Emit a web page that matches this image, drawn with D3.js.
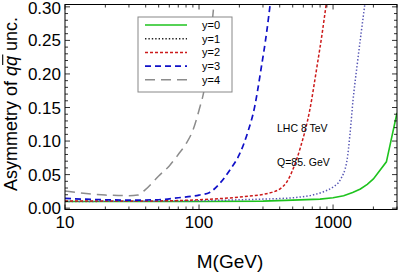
<!DOCTYPE html>
<html><head><meta charset="utf-8">
<script src="https://cdn.jsdelivr.net/npm/d3@7"></script>
<style>body{margin:0;background:#fff}svg{display:block}</style>
</head><body>
<svg id="c" width="398" height="274"></svg>
<script>
const seriesNames = ["y=0","y=1","y=2","y=3","y=4"];
const m0 = [10,100,300,500,800,1000,1200,1400,1600,1800,2000,2500,3000];
const v0 = [0.010,0.010,0.0105,0.012,0.0135,0.0155,0.0185,0.0235,0.0285,0.0355,0.0435,0.069,0.142];
const m1 = [10,50,100,200,300,500,700,850,1000,1130,1270,1340,1410,1510,1620,1730];
const v1 = [0.010,0.0105,0.011,0.0125,0.0135,0.0155,0.0195,0.0245,0.0315,0.042,0.071,0.112,0.161,0.212,0.261,0.305];
const m2 = [10,30,60,100,150,200,250,300,350,400,450,500,570,670,760,830,890];
const v2 = [0.0105,0.0105,0.011,0.0125,0.0145,0.0165,0.0185,0.0205,0.0235,0.0285,0.0385,0.057,0.09,0.146,0.212,0.261,0.305];
const m3 = [10,20,30,50,70,100,120,140,170,200,230,260,290,320,340];
const v3 = [0.0145,0.0125,0.012,0.0125,0.0155,0.0195,0.0235,0.035,0.057,0.08,0.112,0.151,0.207,0.263,0.305];
const m4 = [10,15,20,25,30,35,40,50,60,70,80,90,100,110,120,130];
const v4 = [0.0255,0.0215,0.0195,0.019,0.0185,0.0195,0.028,0.048,0.063,0.080,0.096,0.116,0.146,0.18,0.24,0.31];
const xTicks = [10,100,1000];
const yTicks = [0,0.05,0.10,0.15,0.20,0.25,0.30];
const notes = ["LHC 8 TeV","Q=85. GeV"];

const styles = [
  {c:"#1ec31e", d:null, w:1.6},
  {c:"#5656b4", d:"1.4,2", w:1.5, lc:"#222"},
  {c:"#cc1a1a", d:"3,2", w:1.5},
  {c:"#1010c8", d:"6,4", w:1.7},
  {c:"#8c8c8c", d:"10,6", w:1.5}
];
const data = [[m0,v0],[m1,v1],[m2,v2],[m3,v3],[m4,v4]];
const FONT = "Liberation Sans, Arial, sans-serif";

const L=65, R=397, T=4.5, B=209.5;
const svg = d3.select("#c");
const x = d3.scaleLog().domain([10,3000]).range([L,R]);
const y = d3.scaleLinear().domain([-0.002,0.3035]).range([B,T]);

svg.append("defs").append("clipPath").attr("id","clip")
  .append("rect").attr("x",L).attr("y",T).attr("width",R-L).attr("height",B-T);

const g = svg.append("g").attr("clip-path","url(#clip)");
data.forEach((d,i)=>{
  const pts = d[0].map((m,j)=>[m,d[1][j]]);
  const line = d3.line().x(p=>x(p[0])).y(p=>y(p[1]))
    .curve(i===0?d3.curveLinear:d3.curveMonotoneX);
  g.append("path").attr("d",line(pts)).attr("fill","none")
    .attr("stroke",styles[i].c).attr("stroke-width",styles[i].w)
    .attr("stroke-dasharray",styles[i].d);
});

// frame
svg.append("rect").attr("x",L).attr("y",T).attr("width",R-L).attr("height",B-T)
  .attr("fill","none").attr("stroke","#000").attr("stroke-width",1);

// x ticks (log minor)
const xMinor = [];
for (let dec=10; dec<=1000; dec*=10) for (let k=1;k<10;k++){ const v=dec*k; if(v>=10&&v<=3000) xMinor.push(v); }
xMinor.forEach(v=>{
  const major = xTicks.includes(v);
  const len = major?5:3;
  const px = x(v);
  svg.append("line").attr("x1",px).attr("x2",px).attr("y1",B).attr("y2",B-len).attr("stroke","#000").attr("stroke-width",0.8);
  svg.append("line").attr("x1",px).attr("x2",px).attr("y1",T).attr("y2",T+len).attr("stroke","#000").attr("stroke-width",0.8);
});
xTicks.forEach(v=>{
  svg.append("text").attr("x",x(v)).attr("y",228).attr("text-anchor","middle")
    .attr("font-family",FONT).attr("font-size",17).text(v);
});
// y ticks
for (let i=0;i<=30;i++){
  const v=i/100, major = i%5===0, len = major?5:3, py=y(v);
  svg.append("line").attr("x1",L).attr("x2",L+len).attr("y1",py).attr("y2",py).attr("stroke","#000").attr("stroke-width",0.8);
  svg.append("line").attr("x1",R).attr("x2",R-len).attr("y1",py).attr("y2",py).attr("stroke","#000").attr("stroke-width",0.8);
}
yTicks.forEach(v=>{
  svg.append("text").attr("x",61).attr("y",Math.max(y(v)+6,13.5)).attr("text-anchor","end")
    .attr("font-family",FONT).attr("font-size",17).text(d3.format(".2f")(v));
});

// axis titles
svg.append("text").attr("x",230).attr("y",268).attr("text-anchor","middle")
  .attr("font-family",FONT).attr("font-size",19).text("M(GeV)");
const ytg = svg.append("g").attr("transform","translate(16.5,104) rotate(-90)");
const yt = ytg.append("text").attr("text-anchor","middle")
  .attr("font-family",FONT).attr("font-size",18);
const parts = ["Asymmetry of ","q","q"," unc."];
yt.append("tspan").text(parts[0]);
yt.append("tspan").attr("font-style","italic").text(parts[1]);
yt.append("tspan").attr("font-style","italic").text(parts[2]);
yt.append("tspan").text(parts[3]);
// overline over the second q
(function(){
  const n = yt.node();
  const idx = parts[0].length + parts[1].length;
  const s = n.getStartPositionOfChar(idx), e = n.getEndPositionOfChar(idx);
  ytg.append("line").attr("x1",s.x+1).attr("x2",e.x+1.5).attr("y1",-13.8).attr("y2",-13.8)
    .attr("stroke","#000").attr("stroke-width",1.1);
})();

// legend
const lg = svg.append("g");
lg.append("rect").attr("x",138).attr("y",17).attr("width",94).attr("height",75)
  .attr("fill","#fff").attr("stroke","#888").attr("stroke-width",1);
seriesNames.forEach((n,i)=>{
  const yy = 25 + i*13.7;
  lg.append("line").attr("x1",145).attr("x2",187).attr("y1",yy).attr("y2",yy)
    .attr("stroke",styles[i].lc||styles[i].c).attr("stroke-width",styles[i].w)
    .attr("stroke-dasharray",styles[i].d);
  lg.append("text").attr("x",202).attr("y",yy+4).attr("font-family",FONT)
    .attr("font-size",11).text(n);
});

// notes
notes.forEach((t,i)=>{
  svg.append("text").attr("x",277).attr("y",132+i*34).attr("font-family",FONT)
    .attr("font-size",10.5).text(t);
});
</script>
</body></html>
